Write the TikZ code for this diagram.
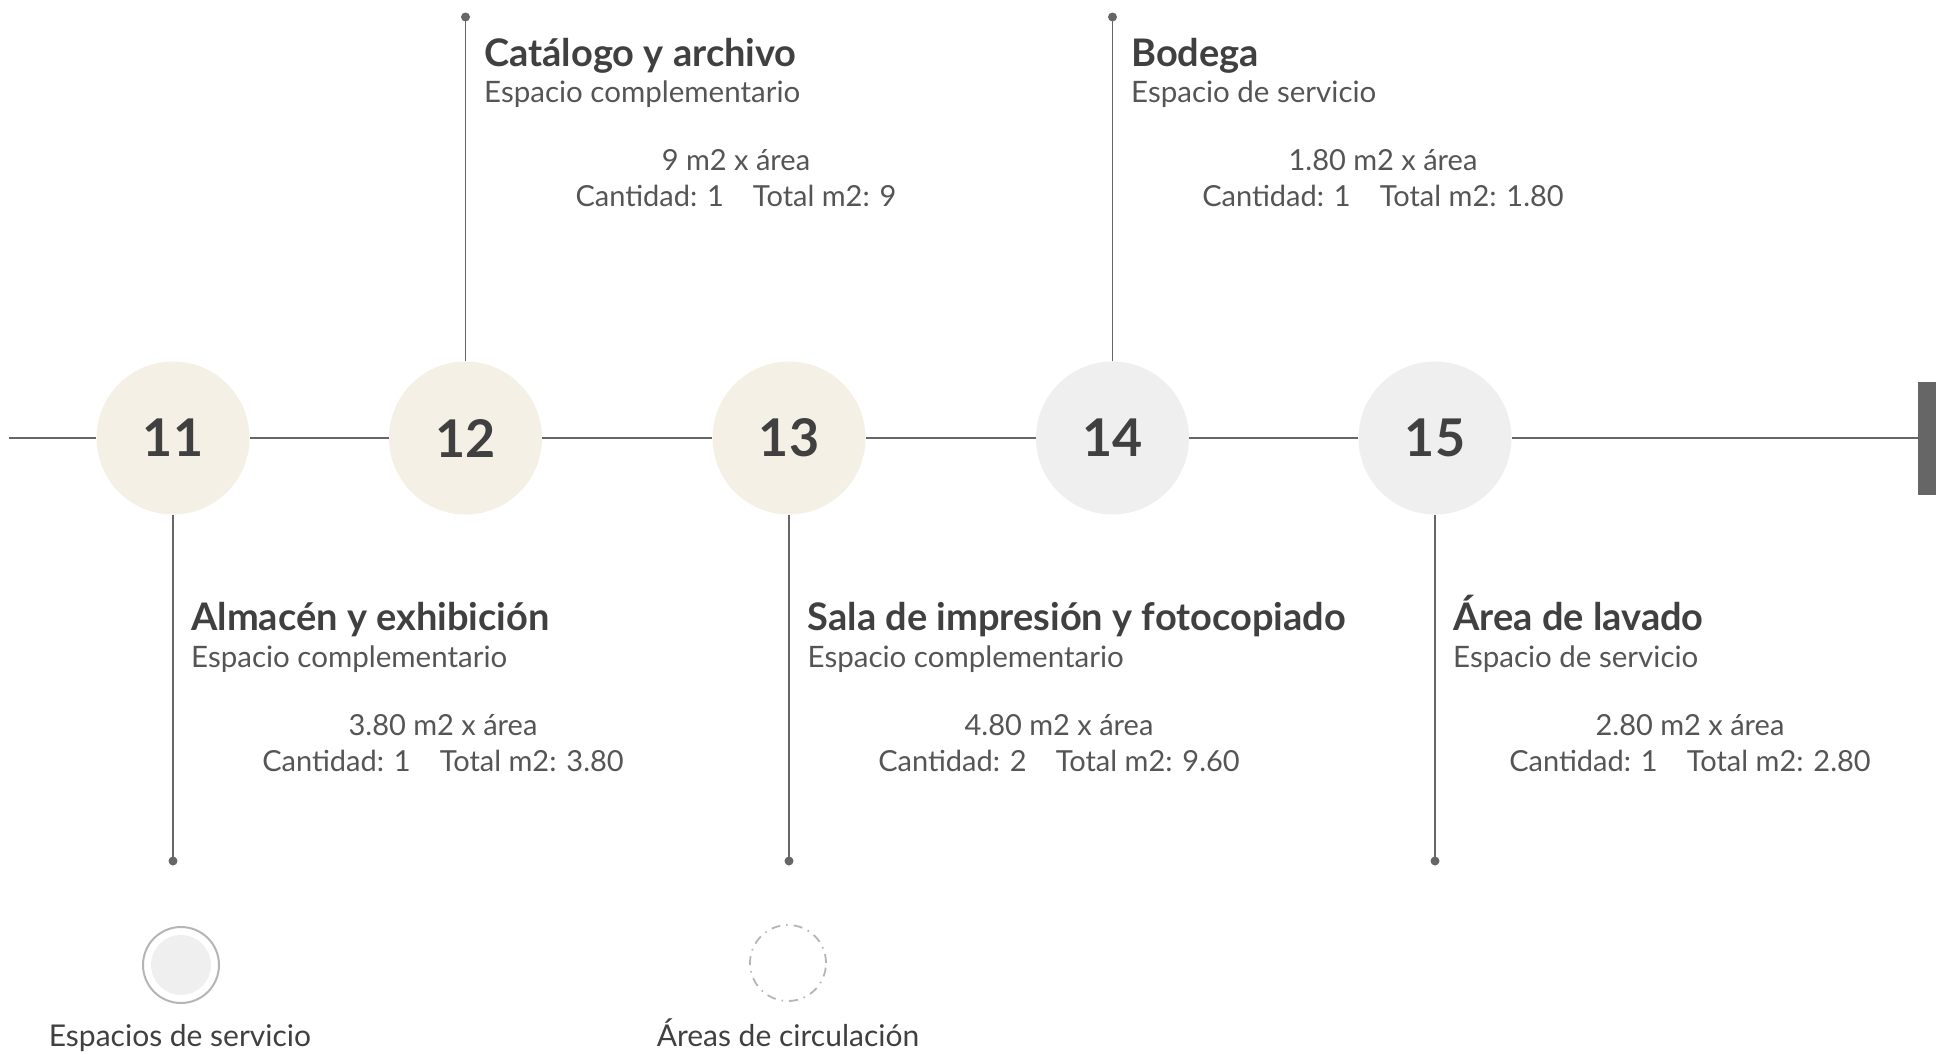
\documentclass[tikz,border=0pt]{standalone}
\usepackage{fontspec}
\setmainfont{Lato}
\definecolor{ink}{HTML}{404040}
\definecolor{inksoft}{HTML}{555555}
\definecolor{rule}{HTML}{666666}
\definecolor{beige}{HTML}{F4F0E6}
\definecolor{servgray}{HTML}{EFEFEF}
\definecolor{ringgray}{HTML}{B5B5B5}
\tikzset{
    stop/.style={circle, minimum size=153pt, inner sep=0pt, text=ink,
        font=\fontsize{52}{52}\selectfont\bfseries},
    roomname/.style={anchor=base west, inner sep=0pt, text=ink,
        font=\fontsize{38}{40}\selectfont\bfseries},
    roomtype/.style={anchor=base west, inner sep=0pt, text=inksoft,
        font=\fontsize{29.5}{36}\selectfont},
    roomqty/.style={anchor=base, inner sep=0pt, align=center, text=inksoft,
        font=\fontsize{29}{36}\selectfont},
    legendtext/.style={anchor=base, inner sep=0pt, text=ink,
        font=\fontsize{30}{36}\selectfont},
    link/.style={draw=rule, line width=1.8pt},
    pin/.style={fill=rule}
}
\newcommand{\qtyline}[2]{Cantidad: #1\hspace{29pt}Total m2: #2}
\begin{document}
\begin{tikzpicture}[x=1pt, y=-1pt]
    \useasboundingbox (0,0) rectangle (1936,1055);
    % Stops along the line
    \node[stop, fill=beige] (c11) at (173,438) {11};
    \node[stop, fill=beige] (c12) at (465.5,438) {12};
    \node[stop, fill=beige] (c13) at (789,438) {13};
    \node[stop, fill=servgray] (c14) at (1112.5,438) {14};
    \node[stop, fill=servgray] (c15) at (1435,438) {15};
    \node[fill=rule, minimum width=18pt, minimum height=113pt, inner sep=0pt] (bar) at (1927,438) {};
    \coordinate (start) at (9,438);
    % Main line
    \draw[link] (start) -- (c11) -- (c12) -- (c13) -- (c14) -- (c15) -- (bar);
    % Pins up and down
    \coordinate (t12) at (465.5,17);
    \coordinate (t14) at (1112.5,17);
    \coordinate (b11) at (173,861);
    \coordinate (b13) at (789,861);
    \coordinate (b15) at (1435,861);
    \draw[link] (c12) -- (t12);
    \draw[link] (c14) -- (t14);
    \draw[link] (c11) -- (b11);
    \draw[link] (c13) -- (b13);
    \draw[link] (c15) -- (b15);
    \foreach \p in {t12,t14,b11,b13,b15}
        \fill[pin] (\p) circle (4.5pt);
    % Upper labels
    \node[roomname] (n12) at (484,66) {Catálogo y archivo};
    \node[roomtype] (s12) at (484,102) {Espacio complementario};
    \node[roomqty] (q12) at (736,206) {9 m2 x área\\ \qtyline{1}{9}};
    \node[roomname] (n14) at (1131,66) {Bodega};
    \node[roomtype] (s14) at (1131,102) {Espacio de servicio};
    \node[roomqty] (q14) at (1383,206) {1.80 m2 x área\\ \qtyline{1}{1.80}};
    % Lower labels
    \node[roomname] (n11) at (191,630) {Almacén y exhibición};
    \node[roomtype] (s11) at (191,667) {Espacio complementario};
    \node[roomqty] (q11) at (443,771) {3.80 m2 x área\\ \qtyline{1}{3.80}};
    \node[roomname] (n13) at (807.5,630) {Sala de impresión y fotocopiado};
    \node[roomtype] (s13) at (807.5,667) {Espacio complementario};
    \node[roomqty] (q13) at (1059,771) {4.80 m2 x área\\ \qtyline{2}{9.60}};
    \node[roomname] (n15) at (1453,630) {Área de lavado};
    \node[roomtype] (s15) at (1453,667) {Espacio de servicio};
    \node[roomqty] (q15) at (1690,771) {2.80 m2 x área\\ \qtyline{1}{2.80}};
    % Legend
    \node[circle, draw=ringgray, line width=2pt, minimum size=76pt, inner sep=0pt] (lserv) at (181,965) {};
    \fill[servgray] (lserv.center) circle (30pt);
    \node[circle, draw=ringgray, line width=1.8pt, minimum size=76pt, inner sep=0pt,
        dash pattern=on 9pt off 6pt on 1.5pt off 6pt] (lcirc) at (788,963) {};
    \node[legendtext] (tserv) at (180,1046) {Espacios de servicio};
    \node[legendtext] (tcirc) at (788,1046) {Áreas de circulación};
\end{tikzpicture}
\end{document}
